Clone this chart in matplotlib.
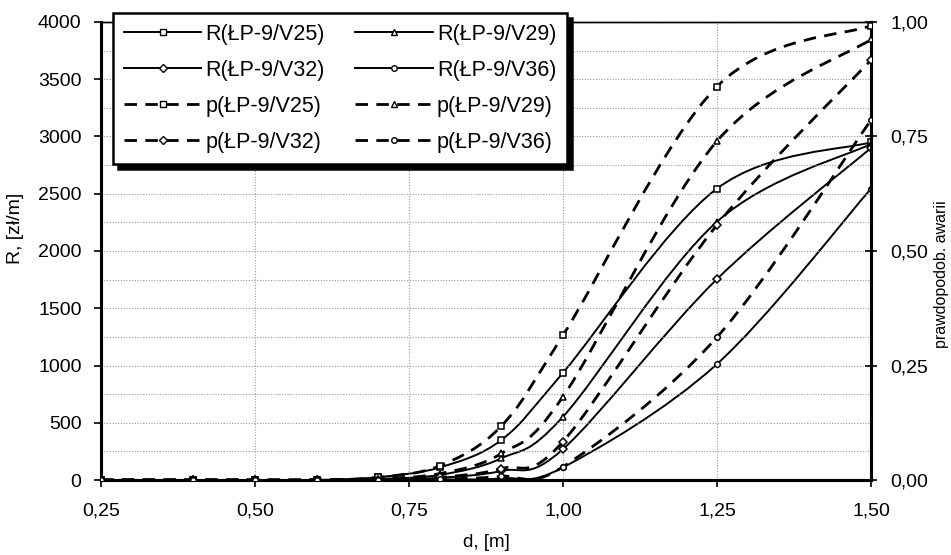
import numpy as np
import matplotlib
matplotlib.use('Agg')
from matplotlib import pyplot as plt
from matplotlib.path import Path
from matplotlib.patches import PathPatch
from matplotlib.lines import Line2D
from matplotlib.ticker import MultipleLocator, FuncFormatter

# srednica d [m]
d = [0.25, 0.40, 0.50, 0.60, 0.70, 0.80, 0.90, 1.00, 1.25, 1.50]

# R [zl/m] - lewa os
R_V25 = [0, 0, 0, 0, 25, 110, 350, 937, 2545, 2950]
R_V29 = [0, 0, 0, 0, 10, 45, 190, 553, 2256, 2935]
R_V32 = [0, 0, 0, 0, 5, 20, 80, 270, 1755, 2900]
R_V36 = [0, 0, 0, 0, 0, 5, 15, 110, 1013, 2545]

# prawdopodobienstwo awarii - prawa os
p_V25 = [0, 0, 0, 0, 0.006, 0.031, 0.118, 0.316, 0.859, 0.992]
p_V29 = [0, 0, 0, 0, 0.003, 0.014, 0.058, 0.182, 0.740, 0.962]
p_V32 = [0, 0, 0, 0, 0.001, 0.006, 0.025, 0.084, 0.557, 0.917]
p_V36 = [0, 0, 0, 0, 0.000, 0.002, 0.008, 0.029, 0.312, 0.786]

labels_R = ['R(ŁP-9/V25)', 'R(ŁP-9/V29)', 'R(ŁP-9/V32)', 'R(ŁP-9/V36)']
labels_p = ['p(ŁP-9/V25)', 'p(ŁP-9/V29)', 'p(ŁP-9/V32)', 'p(ŁP-9/V36)']
markers = ['s', '^', 'D', 'o']
msizes = [4.5, 5, 4.5, 4]

plt.rcParams['font.family'] = ['Liberation Sans', 'DejaVu Sans']


def smooth_path(x, y):
    # wygladzona linia jak w Excelu (krzywe Beziera, Catmull-Rom)
    pts = np.column_stack([x, y]).astype(float)
    n = len(pts)
    verts = [pts[0]]
    codes = [Path.MOVETO]
    for i in range(n - 1):
        p0 = pts[i - 1] if i > 0 else pts[i]
        p1 = pts[i]
        p2 = pts[i + 1]
        p3 = pts[i + 2] if i + 2 < n else pts[i + 1]
        verts += [p1 + (p2 - p0) / 6, p2 - (p3 - p1) / 6, p2]
        codes += [Path.CURVE4] * 3
    return Path(verts, codes)


def draw(ax, x, y, marker, ms, ls, lw):
    ax.add_patch(PathPatch(smooth_path(x, y), fill=False, edgecolor='black',
                           linestyle=ls, linewidth=lw, capstyle='butt'))
    ax.plot(x, y, linestyle='none', marker=marker, markersize=ms,
            markerfacecolor='white', markeredgecolor='black',
            markeredgewidth=1.1, zorder=5)


dash = (0, (4.5, 3))
lw_R, lw_p = 1.4, 2.0
fig = plt.figure(figsize=(9.51, 5.55), dpi=100)
ax = fig.add_axes([0.1062, 0.1351, 0.8097, 0.8253])
ax2 = ax.twinx()

for y, m, ms in zip([R_V25, R_V29, R_V32, R_V36], markers, msizes):
    draw(ax, d, y, m, ms, '-', lw_R)
for y, m, ms in zip([p_V25, p_V29, p_V32, p_V36], markers, msizes):
    draw(ax2, d, y, m, ms, dash, lw_p)

ax.set_xlim(0.25, 1.50)
ax.set_ylim(0, 4000)
ax2.set_ylim(0, 1.0)
ax.xaxis.set_major_locator(MultipleLocator(0.25))
ax.yaxis.set_major_locator(MultipleLocator(500))
ax.yaxis.set_minor_locator(MultipleLocator(250))
ax2.yaxis.set_major_locator(MultipleLocator(0.25))

comma = FuncFormatter(lambda v, pos: f'{v:.2f}'.replace('.', ','))
ax.xaxis.set_major_formatter(comma)
ax2.yaxis.set_major_formatter(comma)

ax.grid(True, which='major', axis='x', color='#999999', linestyle=(0, (1, 1.5)), linewidth=0.8)
ax.grid(True, which='both', axis='y', color='#999999', linestyle=(0, (1, 1.5)), linewidth=0.8)

ax.tick_params(axis='x', which='major', labelsize=14, direction='out',
               length=5, width=1.2, pad=11)
ax.tick_params(axis='y', which='major', labelsize=14, direction='out',
               length=5, width=1.2, pad=9)
ax.tick_params(axis='y', which='minor', length=0)
ax2.tick_params(axis='y', labelsize=14, direction='inout', length=8, width=1.2, pad=10)

for a in (ax, ax2):
    a.spines['left'].set_linewidth(2.2)
    a.spines['right'].set_linewidth(2.2)
    a.spines['bottom'].set_linewidth(2.2)
    a.spines['top'].set_linewidth(1.0)

ax.set_xlabel('d, [m]', fontsize=13.5)
ax.set_ylabel('R, [zł/m]', fontsize=14)
ax2.set_ylabel('prawdopodob. awarii', fontsize=11.5)
ax.xaxis.set_label_coords(0.5, -0.118)
ax.yaxis.set_label_coords(-0.1, 0.55)
ax2.yaxis.set_label_coords(1.082, 0.45)

handles = []
for lab, m, ms in zip(labels_R + labels_p, markers * 2, msizes * 2):
    ls = '-' if lab.startswith('R') else dash
    lw = lw_R if lab.startswith('R') else lw_p
    handles.append(Line2D([], [], color='black', linestyle=ls, linewidth=lw,
                          marker=m, markersize=ms, markerfacecolor='white',
                          markeredgecolor='black', label=lab))
# kolejnosc wierszami przy ncol=2
order = [0, 2, 4, 6, 1, 3, 5, 7]
handles = [handles[i] for i in order]
leg = ax2.legend(handles=handles, ncol=2, loc='upper left',
                 bbox_to_anchor=(0.0156, 1.0197), fontsize=15.5,
                 frameon=True, fancybox=False, handlelength=3.6,
                 handletextpad=0.2, columnspacing=1.4, labelspacing=0.7,
                 borderpad=0.5, borderaxespad=0,
                 shadow={'ox': 3.5, 'oy': -3.5, 'facecolor': 'black',
                         'edgecolor': 'black', 'alpha': 1})
leg.get_frame().set_edgecolor('black')
leg.get_frame().set_linewidth(1.8)
leg.set_zorder(10)

fig.savefig('out.png', dpi=100)
